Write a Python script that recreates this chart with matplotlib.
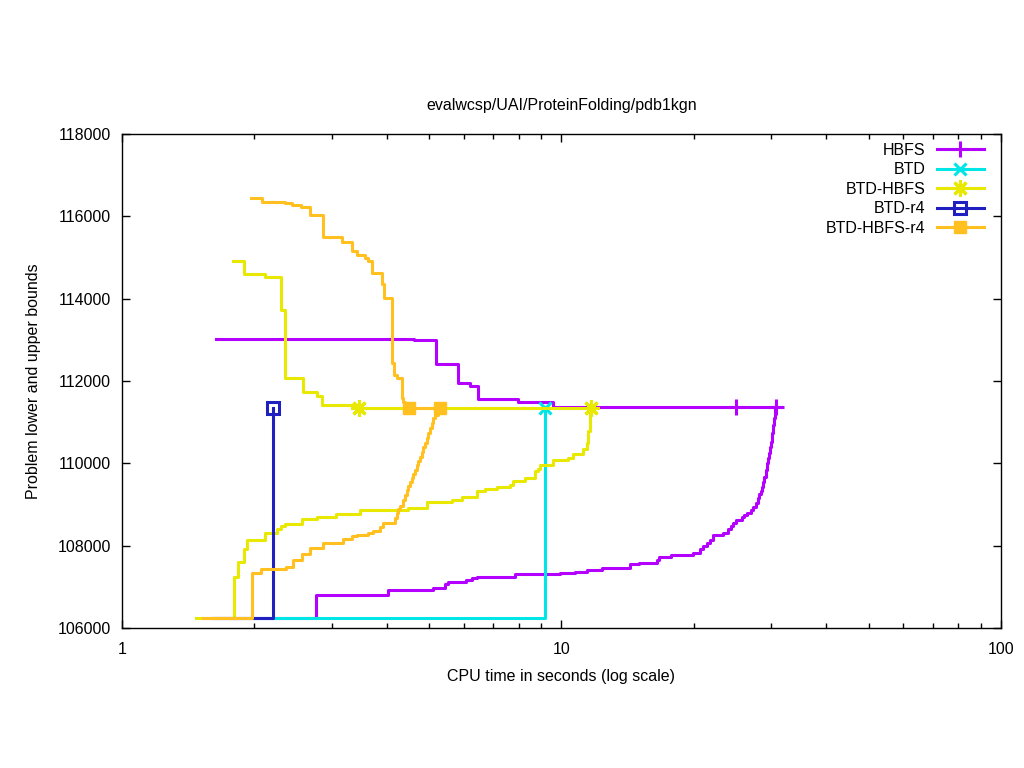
import numpy as np
import matplotlib.pyplot as plt
from matplotlib.lines import Line2D
from matplotlib.ticker import LogLocator, NullFormatter, FixedLocator

plt.rcParams['font.family'] = ['Liberation Sans', 'DejaVu Sans']

# values (time in seconds, bound value)
optimum = 111340
hbfs_opt = 111380
floor_lb = 106240

hbfs_ub_t = [1.636, 4.624, 5.182, 5.824, 6.193, 6.447, 7.962, 9.565, 31.6]
hbfs_ub = [113030, 112990, 112410, 111940, 111880, 111555, 111480, hbfs_opt, hbfs_opt]
hbfs_lb_t = [1.636, 2.768, 4.036, 5.109, 5.432, 5.518, 6.064, 6.248, 6.414, 7.839,
             9.922, 10.73, 11.41, 12.35, 14.32, 15.03, 16.52, 16.69, 17.72, 19.95,
             20.66, 21.02, 21.40, 21.77, 22.15, 23.27, 23.96, 24.31, 24.60, 24.95,
             25.70, 26.01, 26.38, 26.98, 27.31, 27.66, 27.95, 28.19, 28.44, 28.63,
             28.79, 28.93, 29.15, 29.30, 29.46, 29.61, 29.81, 29.97, 30.13, 30.28,
             30.39, 30.55, 30.65]
hbfs_lb = [floor_lb, 106800, 106916, 106979, 107069, 107117, 107166, 107222, 107246, 107304,
           107336, 107368, 107409, 107457, 107562, 107586, 107652, 107717, 107780, 107822,
           107919, 107999, 108057, 108138, 108259, 108315, 108397, 108478, 108558, 108623,
           108689, 108745, 108786, 108866, 108946, 109029, 109151, 109248, 109328, 109432,
           109554, 109675, 109838, 110001, 110122, 110243, 110404, 110525, 110729, 110931,
           111094, 111254, hbfs_opt]
hbfs_pts_t = [24.95, 30.77]

btd_lb_t = [1.6, 9.173]
btd_lb = [floor_lb, optimum]
btd_pts_t = [9.173]

btdh_ub_t = [1.792, 1.898, 2.119, 2.304, 2.352, 2.577, 2.782, 2.856, 3.355, 11.61]
btdh_ub = [114915, 114600, 114520, 113725, 112065, 111730, 111630, 111420, optimum, optimum]
btdh_lb_t = [1.473, 1.801, 1.839, 1.895, 1.921, 2.119, 2.256, 2.297, 2.346, 2.564,
             2.773, 3.064, 3.480, 4.481, 4.935, 5.626, 5.929, 6.414, 6.698, 7.123,
             7.636, 7.769, 8.260, 8.704, 8.856, 8.935, 9.579, 10.36, 10.64, 11.21,
             11.41, 11.51, 11.61]
btdh_lb = [floor_lb, 107232, 107603, 107912, 108130, 108300, 108412, 108478, 108526, 108648,
           108689, 108776, 108866, 108915, 109061, 109102, 109182, 109328, 109369, 109418,
           109474, 109571, 109651, 109814, 109862, 109952, 110074, 110137, 110227, 110341,
           110501, 110785, optimum]
btdh_pts_t = [3.462, 11.65]

btdr4_lb_t = [1.6, 2.206]
btdr4_lb = [floor_lb, optimum]
btdr4_pts_t = [2.206]

btdhr4_ub_t = [1.966, 2.079, 2.349, 2.440, 2.551, 2.678, 2.861, 3.172, 3.337, 3.420,
               3.578, 3.635, 3.712, 3.899, 3.946, 4.109, 4.158, 4.231, 4.329, 4.366,
               4.405, 5.29]
btdhr4_ub = [116440, 116340, 116320, 116280, 116230, 116030, 115490, 115370, 115150, 115060,
             115000, 114915, 114620, 114360, 114010, 112430, 112150, 112070, 111580, 111500,
             optimum, optimum]
btdhr4_lb_t = [1.53, 1.979, 2.072, 2.358, 2.453, 2.564, 2.678, 2.861, 3.188, 3.332,
               3.420, 3.635, 3.719, 3.864, 3.931, 4.180, 4.217, 4.253, 4.291, 4.366,
               4.405, 4.444, 4.481, 4.521, 4.561, 4.600, 4.641, 4.682, 4.722, 4.764,
               4.806, 4.848, 4.891, 4.935, 4.977, 5.022, 5.067, 5.109, 5.155, 5.245]
btdhr4_lb = [floor_lb, 107343, 107426, 107474, 107652, 107790, 107936, 108057, 108162, 108235,
             108259, 108300, 108356, 108446, 108543, 108665, 108786, 108883, 108964, 109109,
             109231, 109352, 109449, 109554, 109636, 109741, 109838, 109959, 110064, 110161,
             110282, 110404, 110501, 110608, 110729, 110851, 110972, 111094, 111174, optimum]
btdhr4_pts_t = [4.50, 5.29]

c_hbfs = '#b300ff'
c_btd = '#00e5e5'
c_btdh = '#e8e800'
c_btdr4 = '#2020c0'
c_btdhr4 = '#ffc020'
lw = 2.2
fs = 11.5

fig = plt.figure(figsize=(10.24, 7.68), dpi=100)
ax = fig.add_axes([0.1191, 0.1823, 0.8584, 0.6432])

# HBFS
ax.plot(hbfs_ub_t, hbfs_ub, drawstyle='steps-post', color=c_hbfs, lw=lw)
ax.plot(hbfs_lb_t, hbfs_lb, drawstyle='steps-post', color=c_hbfs, lw=lw)
ax.plot(hbfs_pts_t, [hbfs_opt] * len(hbfs_pts_t), ls='none', marker='+', ms=12, mew=2.2, color=c_hbfs)

# BTD
ax.plot(btd_lb_t, btd_lb, drawstyle='steps-post', color=c_btd, lw=lw)
ax.plot(btd_pts_t, [optimum], ls='none', marker='x', ms=9, mew=2.2, color=c_btd)

# BTD-HBFS
ax.plot(btdh_ub_t, btdh_ub, drawstyle='steps-post', color=c_btdh, lw=lw)
ax.plot(btdh_lb_t, btdh_lb, drawstyle='steps-post', color=c_btdh, lw=lw)
ax.plot(btdh_pts_t, [optimum] * 2, ls='none', marker=(8, 2, 0), ms=12, mew=2.2, color=c_btdh)

# BTD-r4
ax.plot(btdr4_lb_t, btdr4_lb, drawstyle='steps-post', color=c_btdr4, lw=lw)
ax.plot(btdr4_pts_t, [optimum], ls='none', marker='s', ms=8, mew=2.2, mfc='none', color=c_btdr4)

# BTD-HBFS-r4
ax.plot(btdhr4_ub_t, btdhr4_ub, drawstyle='steps-post', color=c_btdhr4, lw=lw)
ax.plot(btdhr4_lb_t, btdhr4_lb, drawstyle='steps-post', color=c_btdhr4, lw=lw)
ax.plot(btdhr4_pts_t, [optimum] * 2, ls='none', marker='s', ms=9, color=c_btdhr4)

ax.set_xscale('log')
ax.set_xlim(1, 100)
ax.set_ylim(106000, 118000)
ax.yaxis.set_major_locator(FixedLocator(np.arange(106000, 118001, 2000)))
ax.xaxis.set_major_locator(FixedLocator([1, 10, 100]))
ax.xaxis.set_minor_locator(LogLocator(base=10, subs=np.arange(2, 10)))
ax.xaxis.set_minor_formatter(NullFormatter())
ax.set_xticklabels(['1', '10', '100'])
ax.tick_params(which='both', direction='in', top=True, right=True, labelsize=fs, colors='black')
ax.tick_params(which='major', length=6, width=1, pad=8)
ax.tick_params(axis='x', which='major', pad=10)
ax.tick_params(which='minor', length=3.5, width=1)
for s in ax.spines.values():
    s.set_linewidth(1)

ax.set_title('evalwcsp/UAI/ProteinFolding/pdb1kgn', fontsize=fs, pad=17)
ax.set_xlabel('CPU time in seconds (log scale)', fontsize=fs, labelpad=9)
ax.set_ylabel('Problem lower and upper bounds', fontsize=fs, labelpad=12)

handles = [
    Line2D([], [], color=c_hbfs, lw=lw, marker='+', ms=12, mew=2.2),
    Line2D([], [], color=c_btd, lw=lw, marker='x', ms=9, mew=2.2),
    Line2D([], [], color=c_btdh, lw=lw, marker=(8, 2, 0), ms=12, mew=2.2),
    Line2D([], [], color=c_btdr4, lw=lw, marker='s', ms=8, mew=2.2, mfc='none'),
    Line2D([], [], color=c_btdhr4, lw=lw, marker='s', ms=9),
]
labels = ['HBFS', 'BTD', 'BTD-HBFS', 'BTD-r4', 'BTD-HBFS-r4']
ax.legend(handles, labels, loc='upper right', bbox_to_anchor=(0.995, 1.008), frameon=False,
          markerfirst=False, fontsize=fs, handlelength=2.95, labelspacing=0.28,
          handletextpad=0.7, borderaxespad=0.4)

fig.savefig('out.png', dpi=100)
